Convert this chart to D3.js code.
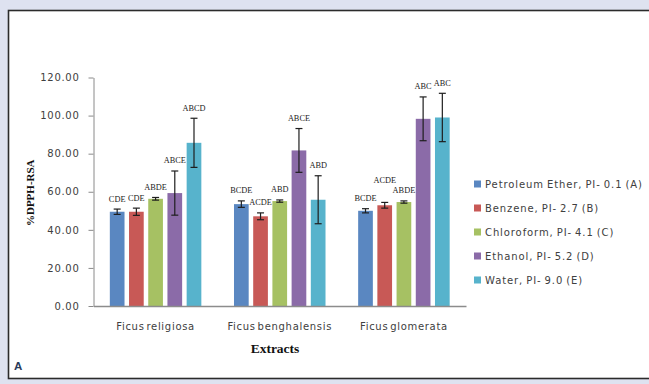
<!DOCTYPE html>
<html>
<head>
<meta charset="utf-8">
<script src="https://cdn.jsdelivr.net/npm/d3@7"></script>
<style>
  html, body { margin: 0; padding: 0; background: #dee2f0; }
  svg { display: block; }
</style>
</head>
<body>
<svg id="chart" width="649" height="384"></svg>
<script>
// Extract groups on the x axis
const categories = ["Ficus religiosa", "Ficus benghalensis", "Ficus glomerata"];

// Solvent series (legend entries)
const seriesNames = [
  "Petroleum Ether, PI- 0.1 (A)",
  "Benzene, PI- 2.7 (B)",
  "Chloroform, PI- 4.1 (C)",
  "Ethanol, PI- 5.2 (D)",
  "Water, PI- 9.0 (E)"
];

// %DPPH-RSA means per extract
const petroleumEther = [49.5, 53.5, 50.0];
const benzene        = [49.5, 47.1, 52.9];
const chloroform     = [56.3, 55.1, 54.6];
const ethanol        = [59.3, 81.7, 98.3];
const water          = [85.7, 55.8, 99.0];

// Standard deviations
const petroleumEtherSd = [1.4, 1.7, 1.1];
const benzeneSd        = [1.9, 1.8, 1.5];
const chloroformSd     = [0.7, 0.6, 0.6];
const ethanolSd        = [11.6, 11.5, 11.5];
const waterSd          = [12.9, 12.6, 12.7];

// Significance letters above each bar
const petroleumEtherSig = ["CDE", "BCDE", "BCDE"];
const benzeneSig        = ["CDE", "ACDE", "ACDE"];
const chloroformSig     = ["ABDE", "ABD", "ABDE"];
const ethanolSig        = ["ABCE", "ABCE", "ABC"];
const waterSig          = ["ABCD", "ABD", "ABC"];

// Axis ticks
const yTicks = [0, 20, 40, 60, 80, 100, 120];

const colors = ["#5a87c1", "#c85956", "#a6c163", "#8b6ba8", "#57b3cc"];

const means = [petroleumEther, benzene, chloroform, ethanol, water];
const sds = [petroleumEtherSd, benzeneSd, chloroformSd, ethanolSd, waterSd];
const sigs = [petroleumEtherSig, benzeneSig, chloroformSig, ethanolSig, waterSig];

const rows = [];
categories.forEach((c, ci) => {
  seriesNames.forEach((s, si) => {
    rows.push({ cat: c, ci, series: s, si, value: means[si][ci], sd: sds[si][ci], sig: sigs[si][ci] });
  });
});

const svg = d3.select("#chart");

// White chart panel with dark frame
svg.append("rect")
  .attr("x", 8.5).attr("y", 10.5)
  .attr("width", 680).attr("height", 368)
  .attr("fill", "#ffffff")
  .attr("stroke", "#2b2b2b")
  .attr("stroke-width", 1.6);

const plot = { left: 93.5, right: 466, top: 77.5, bottom: 306 };

const x0 = d3.scaleBand()
  .domain(categories)
  .range([plot.left, plot.right])
  .paddingInner(0).paddingOuter(0);

const x1 = d3.scaleBand()
  .domain(seriesNames)
  .range([0, x0.bandwidth()])
  .paddingInner(0.235)
  .paddingOuter(0.85);

const y = d3.scaleLinear().domain([0, 120]).range([plot.bottom, plot.top]);

// Y axis
const yAxis = svg.append("g")
  .attr("transform", `translate(${plot.left},0)`)
  .call(d3.axisLeft(y).tickValues(yTicks).tickFormat(d3.format(".2f")).tickSize(5).tickSizeOuter(0).tickPadding(9));
yAxis.select(".domain").attr("stroke", "#8a8a8a");
yAxis.selectAll(".tick line").attr("stroke", "#8a8a8a");
yAxis.selectAll(".tick text")
  .attr("fill", "#404040")
  .style("font-family", "'DejaVu Sans', sans-serif")
  .style("font-size", "10px")
  .style("letter-spacing", "0.7px");

// Bars
svg.append("g").selectAll("rect")
  .data(rows)
  .join("rect")
  .attr("x", d => x0(d.cat) + x1(d.series))
  .attr("y", d => y(d.value))
  .attr("width", x1.bandwidth())
  .attr("height", d => y(0) - y(d.value))
  .attr("fill", d => colors[d.si]);

// Error bars
const eb = svg.append("g").attr("stroke", "#1e1e1e").attr("stroke-width", 1.2);
rows.forEach(d => {
  const cx = x0(d.cat) + x1(d.series) + x1.bandwidth() / 2;
  const yHi = y(d.value + d.sd), yLo = y(d.value - d.sd);
  eb.append("line").attr("x1", cx).attr("x2", cx).attr("y1", yHi).attr("y2", yLo);
  eb.append("line").attr("x1", cx - 3.5).attr("x2", cx + 3.5).attr("y1", yHi).attr("y2", yHi);
  eb.append("line").attr("x1", cx - 3.5).attr("x2", cx + 3.5).attr("y1", yLo).attr("y2", yLo);
});

// X axis baseline and category labels
const xAxis = svg.append("g")
  .attr("transform", `translate(0,${plot.bottom})`)
  .call(d3.axisBottom(x0).tickSize(0).tickPadding(17));
xAxis.select(".domain").attr("stroke", "#8c8c8c").attr("stroke-width", 1.4);
xAxis.selectAll(".tick text")
  .attr("fill", "#404040")
  .style("font-family", "'DejaVu Sans', sans-serif")
  .style("font-size", "10px")
  .style("letter-spacing", "0.7px")
  .style("word-spacing", "-2px");

// Significance letters, lifted when they collide with the neighbouring label
const labelG = svg.append("g")
  .style("font-family", "'Liberation Serif', 'Times New Roman', serif")
  .style("font-size", "8.3px")
  .attr("fill", "#1a1a1a")
  .attr("text-anchor", "middle");
const placed = [];
rows.forEach((d, i) => {
  const cx = x0(d.cat) + x1(d.series) + x1.bandwidth() / 2;
  let cy = y(d.value + d.sd) - 10.5;
  const t = labelG.append("text").attr("x", cx).text(d.sig);
  const w = t.node().getComputedTextLength();
  const prev = placed[placed.length - 1];
  if (prev && prev.ci === d.ci) {
    const hOverlap = Math.abs(cx - prev.cx) < (w + prev.w) / 2;
    const vOverlap = Math.abs(cy - prev.cy) < 10;
    if (hOverlap && vOverlap) cy = Math.min(cy, prev.cy - 18);
  }
  t.attr("y", cy + 3);
  placed.push({ ci: d.ci, cx, cy, w });
});

// Axis titles
svg.append("text")
  .attr("transform", `translate(34,${(plot.top + plot.bottom) / 2 + 1}) rotate(-90)`)
  .attr("text-anchor", "middle")
  .style("font-family", "'Liberation Serif', 'Times New Roman', serif")
  .style("font-weight", "bold")
  .style("font-size", "11px")
  .attr("fill", "#111")
  .text("%DPPH-RSA");

svg.append("text")
  .attr("x", 275).attr("y", 352.5)
  .attr("text-anchor", "middle")
  .style("font-family", "'Liberation Serif', 'Times New Roman', serif")
  .style("font-weight", "bold")
  .style("font-size", "13.5px")
  .attr("fill", "#111")
  .text("Extracts");

// Legend
const legend = svg.append("g").attr("transform", "translate(474,184)");
seriesNames.forEach((s, i) => {
  const g = legend.append("g").attr("transform", `translate(0,${i * 24})`);
  g.append("rect").attr("x", 0).attr("y", -3.5).attr("width", 7).attr("height", 7).attr("fill", colors[i]);
  g.append("text")
    .attr("x", 11).attr("y", 0).attr("dy", "0.36em")
    .attr("fill", "#404040")
    .style("font-family", "'DejaVu Sans', sans-serif")
    .style("font-size", "10px")
    .style("letter-spacing", "0.9px")
    .style("word-spacing", "-1px")
    .text(s);
});

// Panel tag
svg.append("text")
  .attr("x", 14).attr("y", 370)
  .style("font-family", "'Liberation Sans', Arial, sans-serif")
  .style("font-size", "11.5px")
  .style("font-weight", "bold")
  .attr("fill", "#2a3a5a")
  .text("A");
</script>
</body>
</html>
